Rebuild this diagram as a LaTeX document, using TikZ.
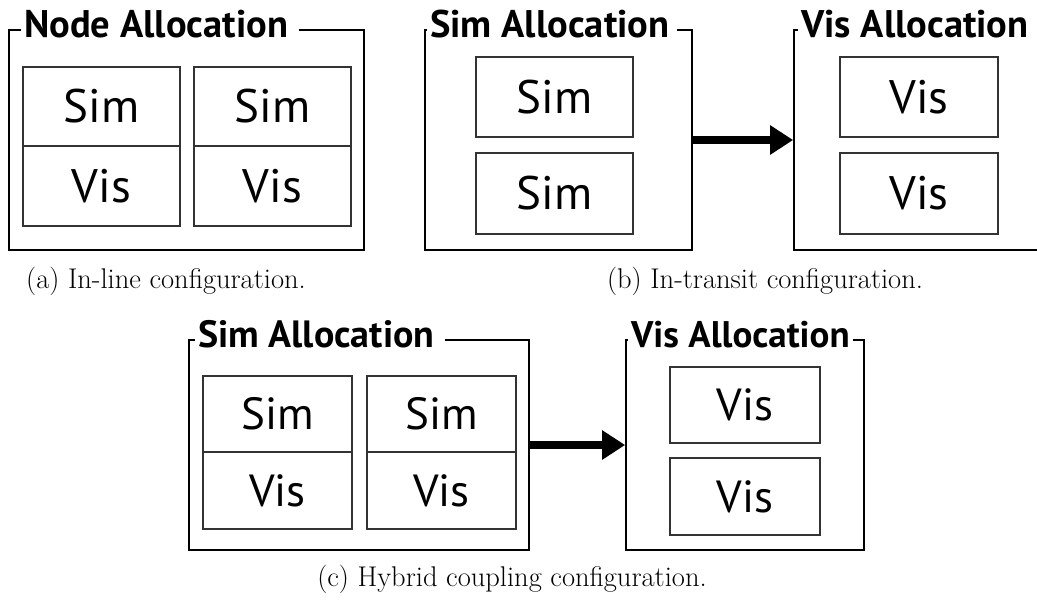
\documentclass[tikz,border=0pt]{standalone}
\usepackage{fontspec}
\newfontfamily\labelfam{PT Sans}
\usetikzlibrary{arrows.meta}
\begin{document}
\begin{tikzpicture}[x=1pt,y=-1pt,
  frame/.style={draw=black, line width=1.7pt, inner sep=0pt},
  cell/.style={draw=black!80, line width=1.1pt, inner sep=0pt,
    font=\labelfam\fontsize{47}{47}\selectfont},
  cellc/.style={cell, font=\labelfam\fontsize{45}{45}\selectfont},
  title/.style={fill=white, inner xsep=3pt, inner ysep=0pt, anchor=base west,
    font=\labelfam\bfseries\fontsize{38.5}{38.5}\selectfont},
  titlec/.style={title, font=\labelfam\bfseries\fontsize{38}{38}\selectfont},
  flow/.style={line width=8pt, -{Triangle[length=23pt,width=28pt]}},
  caption/.style={inner sep=0pt, anchor=base, font=\fontsize{28.5}{34}\selectfont}]
\path[use as bounding box] (0,0) rectangle (1037,600);
\clip (0,0) rectangle (1037,600);

% (a) in-line: one allocation, each node runs Sim and Vis
\node[frame, minimum width=355pt, minimum height=220pt] (nodeA) at (186.5,140) {};
\node[title] (nodeAT) at (21,37) {Node Allocation\kern8pt};
\node[cell, minimum width=157pt, minimum height=79pt] (aS1) at (101.5,106.5) {Sim};
\node[cell, minimum width=157pt, minimum height=80pt] (aV1) at (101.5,186) {Vis};
\node[cell, minimum width=157pt, minimum height=79pt] (aS2) at (272.5,106.5) {Sim};
\node[cell, minimum width=157pt, minimum height=80pt] (aV2) at (272.5,186) {Vis};
\node[caption] (capA) at (166,288) {(a) In-line configuration.};

% (b) in-transit: separate Sim and Vis allocations
\node[frame, minimum width=267pt, minimum height=220pt] (simB) at (558.5,140) {};
\node[title] (simBT) at (427,37) {Sim Allocation\kern4pt};
\node[cell, minimum width=157pt, minimum height=80pt] (bS1) at (554.5,97) {Sim};
\node[cell, minimum width=157pt, minimum height=81pt] (bS2) at (554.5,193.5) {Sim};
\node[frame, minimum width=256pt, minimum height=220pt] (visB) at (922,140) {};
\node[title] (visBT) at (798,37) {Vis Allocation\kern20pt};
\node[cell, minimum width=158pt, minimum height=80pt] (bV1) at (919,97) {Vis};
\node[cell, minimum width=158pt, minimum height=81pt] (bV2) at (919,193.5) {Vis};
\draw[flow] (simB.east) -- (visB.west);
\node[caption] (capB) at (765,288) {(b) In-transit configuration.};

% (c) hybrid coupling: in-line nodes plus a separate Vis allocation
\node[frame, minimum width=340pt, minimum height=210pt] (simC) at (359,445) {};
\node[titlec] (simCT) at (195,347) {Sim Allocation\kern8pt};
\node[cellc, minimum width=149pt, minimum height=76pt] (cS1) at (277.5,414) {Sim};
\node[cellc, minimum width=149pt, minimum height=77pt] (cV1) at (277.5,490.5) {Vis};
\node[cellc, minimum width=149pt, minimum height=76pt] (cS2) at (441.5,414) {Sim};
\node[cellc, minimum width=149pt, minimum height=77pt] (cV2) at (441.5,490.5) {Vis};
\node[frame, minimum width=238pt, minimum height=210pt] (visC) at (745,445) {};
\node[titlec, font=\labelfam\bfseries\fontsize{37}{37}\selectfont] (visCT) at (628,347) {Vis Allocation};
\node[cellc, minimum width=150pt, minimum height=76pt] (cV3) at (745,405) {Vis};
\node[cellc, minimum width=150pt, minimum height=77pt] (cV4) at (745,496.5) {Vis};
\draw[flow] (simC.east) -- (visC.west);
\node[caption] (capC) at (512,586) {(c) Hybrid coupling configuration.};
\end{tikzpicture}
\end{document}
